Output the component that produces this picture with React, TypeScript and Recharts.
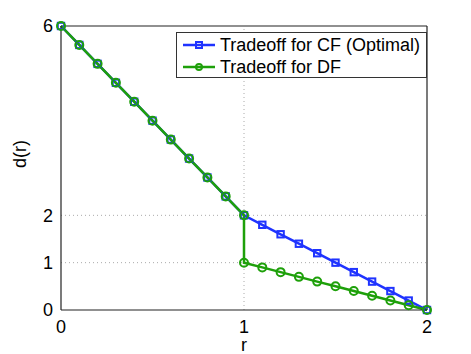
import type { FC } from "react"
import { Line, LineChart, ReferenceLine, XAxis, YAxis, Legend } from "recharts"

const CF_R = [0, 0.1, 0.2, 0.3, 0.4, 0.5, 0.6, 0.7, 0.8, 0.9, 1, 1.1, 1.2, 1.3, 1.4, 1.5, 1.6, 1.7, 1.8, 1.9, 2]
const CF_D = [6, 5.6, 5.2, 4.8, 4.4, 4, 3.6, 3.2, 2.8, 2.4, 2, 1.8, 1.6, 1.4, 1.2, 1, 0.8, 0.6, 0.4, 0.2, 0]

const DF_R = [0, 0.1, 0.2, 0.3, 0.4, 0.5, 0.6, 0.7, 0.8, 0.9, 1, 1, 1.1, 1.2, 1.3, 1.4, 1.5, 1.6, 1.7, 1.8, 1.9, 2]
const DF_D = [6, 5.6, 5.2, 4.8, 4.4, 4, 3.6, 3.2, 2.8, 2.4, 2, 1, 0.9, 0.8, 0.7, 0.6, 0.5, 0.4, 0.3, 0.2, 0.1, 0]

const X_TICKS = [0, 1, 2]
const Y_TICKS = [0, 1, 2, 6]
const GRID_X = [1]
const GRID_Y = [1, 2]
const X_MAX = 2
const Y_MAX = 6

const BLUE = "#1f33ff"
const GREEN = "#1ea00a"
const FONT = "'Liberation Sans', Arial, sans-serif"
const FS = 18

const cfData = CF_R.map((r, i) => ({ r, d: CF_D[i] }))
const dfData = DF_R.map((r, i) => ({ r, d: DF_D[i] }))

const SquareDot = (props: any) => {
  const { cx, cy, index } = props
  if (cx == null || cy == null) return <g key={index} />
  return (
    <rect key={index} x={cx - 3.2} y={cy - 3.2} width={6.4} height={6.4} fill="none" stroke={BLUE} strokeWidth={2} />
  )
}

const LegendBox: FC = () => (
  <div
    style={{
      position: "absolute",
      left: 176,
      top: 32,
      width: 251,
      height: 46,
      border: "1px solid #333",
      background: "#fff",
      fontFamily: FONT,
      fontSize: FS,
      color: "#000",
      boxSizing: "border-box",
    }}
  >
    {[
      { name: "Tradeoff for CF (Optimal)", color: BLUE, square: true },
      { name: "Tradeoff for DF", color: GREEN, square: false },
    ].map((it, i) => (
      <div key={i} style={{ position: "absolute", left: 5, top: 2 + i * 22, height: 20, display: "flex", alignItems: "center" }}>
        <svg width={36} height={12}>
          <line x1={1} y1={6} x2={33} y2={6} stroke={it.color} strokeWidth={2.5} />
          {it.square ? (
            <rect x={14} y={3} width={6} height={6} fill="none" stroke={it.color} strokeWidth={2} />
          ) : (
            <circle cx={17} cy={6} r={3} fill="none" stroke={it.color} strokeWidth={2} />
          )}
        </svg>
        <span style={{ marginLeft: 2, lineHeight: "20px" }}>{it.name}</span>
      </div>
    ))}
  </div>
)

export default function App() {
  return (
    <div style={{ position: "absolute", left: 0, top: 0, width: 471, height: 354, background: "#fff" }}>
      <LineChart width={471} height={354} margin={{ top: 26, right: 44, bottom: 0, left: 0 }}>
        <XAxis
          xAxisId="b"
          dataKey="r"
          type="number"
          domain={[0, X_MAX]}
          ticks={X_TICKS}
          height={44}
          axisLine={{ stroke: "#222", strokeWidth: 1.2 }}
          tickLine={false}
          tickMargin={4}
          tick={{ fill: "#000", fontSize: FS, fontFamily: FONT }}
          label={{ value: "r", position: "insideBottom", offset: 0, dy: -3, fill: "#000", fontSize: FS, fontFamily: FONT }}
          allowDuplicatedCategory
        />
        <YAxis
          yAxisId="l"
          type="number"
          domain={[0, Y_MAX]}
          ticks={Y_TICKS}
          width={61}
          axisLine={{ stroke: "#222", strokeWidth: 1.2 }}
          tickLine={false}
          tickMargin={2}
          tick={{ fill: "#000", fontSize: FS, fontFamily: FONT }}
          label={{ value: "d(r)", angle: -90, position: "insideLeft", offset: 20, fill: "#000", fontSize: FS, fontFamily: FONT }}
        />
        {GRID_X.map((x) => (
          <ReferenceLine key={"gx" + x} x={x} xAxisId="b" yAxisId="l" stroke="#aaa" strokeDasharray="1 3" />
        ))}
        {GRID_Y.map((y) => (
          <ReferenceLine key={"gy" + y} y={y} xAxisId="b" yAxisId="l" stroke="#aaa" strokeDasharray="1 3" />
        ))}
        <ReferenceLine y={Y_MAX} xAxisId="b" yAxisId="l" stroke="#222" strokeWidth={1.2} />
        <ReferenceLine x={X_MAX} xAxisId="b" yAxisId="l" stroke="#222" strokeWidth={1.2} />
        <Legend content={() => <LegendBox />} wrapperStyle={{ position: "absolute", left: 0, top: 0 }} />
        <Line
          data={cfData}
          xAxisId="b"
          yAxisId="l"
          dataKey="d"
          name="Tradeoff for CF (Optimal)"
          type="linear"
          stroke={BLUE}
          strokeWidth={2.5}
          dot={<SquareDot />}
          isAnimationActive={false}
        />
        <Line
          data={dfData}
          xAxisId="b"
          yAxisId="l"
          dataKey="d"
          name="Tradeoff for DF"
          type="linear"
          stroke={GREEN}
          strokeWidth={2.5}
          dot={{ r: 4, fill: "none", stroke: GREEN, strokeWidth: 2 }}
          isAnimationActive={false}
        />
      </LineChart>
    </div>
  )
}
